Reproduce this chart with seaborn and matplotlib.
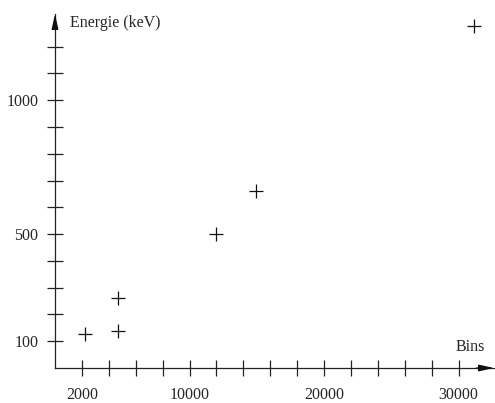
import matplotlib
matplotlib.use("Agg")
import matplotlib.pyplot as plt
import seaborn as sns
import pandas as pd

# Calibration points: channel (bin) vs. energy
bins = [2230, 4700, 4700, 11950, 14950, 31130]
energie = [126, 137, 262, 500, 662, 1276]

x_ticks = list(range(2000, 30001, 2000))
x_labels = {2000: "2000", 10000: "10000", 20000: "20000", 30000: "30000"}
y_ticks = list(range(100, 1201, 100))
y_labels = {100: "100", 500: "500", 1000: "1000"}

sns.set_style("ticks")
plt.rcParams["font.family"] = ["Liberation Serif", "DejaVu Serif"]

W, H = 495, 403
fig = plt.figure(figsize=(W / 100, H / 100), dpi=100)
x0, y0 = 55, 368
x1, y1 = 494, 14
ax = fig.add_axes([x0 / W, (H - y0) / H, (x1 - x0) / W, (y0 - y1) / H])

df = pd.DataFrame({"Bins": bins, "Energie": energie})
sns.scatterplot(data=df, x="Bins", y="Energie", marker="+", s=95,
                color="#111111", linewidth=0.9, ax=ax, legend=False)

px_per_x = 13.45 / 1000
px_per_y = 0.2678
ax.set_xlim(0, (x1 - x0) / px_per_x)
ax.set_ylim(0, (y0 - y1) / px_per_y)

for s in ["top", "right"]:
    ax.spines[s].set_visible(False)
for s in ["left", "bottom"]:
    ax.spines[s].set_color("#222222")
    ax.spines[s].set_linewidth(0.9)

ax.set_xticks(x_ticks)
ax.set_xticklabels([x_labels.get(t, "") for t in x_ticks])
ax.set_yticks(y_ticks)
ax.set_yticklabels([y_labels.get(t, "") for t in y_ticks])
ax.tick_params(axis="both", direction="inout", length=12, width=0.9,
               color="#222222", labelsize=11.5, bottom=True, left=True,
               top=False, right=False)
ax.tick_params(axis="x", pad=8)
ax.tick_params(axis="y", pad=6)
ax.set_xlabel("")
ax.set_ylabel("")

# Axis arrows
ax.annotate("", xy=(1.0, 0), xytext=(0.96, 0), xycoords="axes fraction",
            arrowprops=dict(arrowstyle="-|>,head_length=0.9,head_width=0.2",
                            color="#111111", lw=0.9, shrinkA=0, shrinkB=0))
ax.annotate("", xy=(0, 1.0), xytext=(0, 0.96), xycoords="axes fraction",
            arrowprops=dict(arrowstyle="-|>,head_length=0.9,head_width=0.2",
                            color="#111111", lw=0.9, shrinkA=0, shrinkB=0))

fig.text(70 / W, 1 - 23 / H, "Energie (keV)", fontsize=11.5, va="center", ha="left")
fig.text(485 / W, 1 - 347 / H, "Bins", fontsize=11.5, va="center", ha="right")

fig.savefig("out.png", dpi=100)
